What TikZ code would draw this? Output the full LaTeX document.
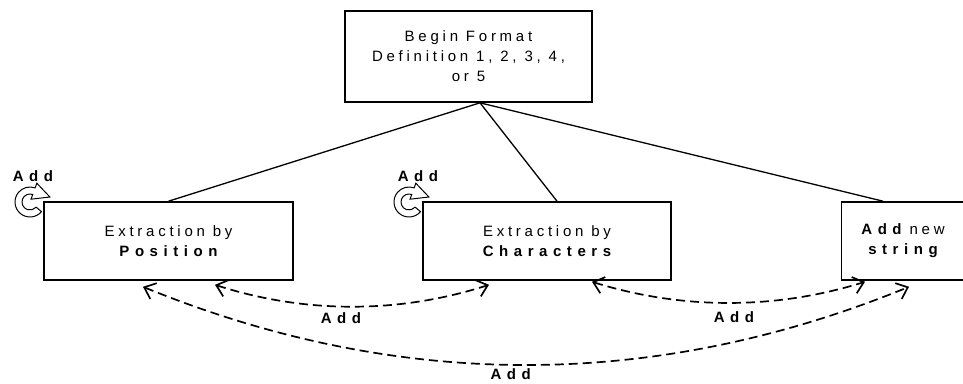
\documentclass[tikz,border=0pt]{standalone}
\usepackage{fontspec}
\setmainfont{Liberation Sans}
\newfontfamily\lsfont[LetterSpace=25]{Liberation Sans}
\newfontfamily\lsbold[LetterSpace=37]{Liberation Sans Bold}
\usetikzlibrary{arrows.meta}

\tikzset{
  block/.style={draw, line width=1.6pt, fill=white, minimum height=78pt, inner sep=0pt,
    align=center, font=\fontsize{15}{20}\selectfont\lsfont},
  addlbl/.style={inner sep=0pt, font=\fontsize{15}{20}\selectfont\lsbold},
  link/.style={line width=1.3pt},
  dasharrow/.style={line width=1.7pt, dash pattern=on 9pt off 5pt, <->,
    >={Straight Barb[length=10pt,width=17pt,line width=1.7pt]}},
  addloop/.pic={
    \draw[line width=1pt, fill=white] (-2.51,9.64) arc[start angle=40, end angle=290, radius=15]
      -- (-7.16,-18.79) -- (5.9,-5.0) -- (-12.97,-2.82) -- (-11.26,-7.52)
      arc[start angle=290, end angle=40, radius=8] -- cycle;
  }
}

\begin{document}
\begin{tikzpicture}[x=1pt, y=-1pt]
    \useasboundingbox (0,0) rectangle (963,383);
    \clip (0,0) rectangle (963,383);
    % loop icons sit behind the boxes
    \pic at (44,202) {addloop};
    \pic at (423,202) {addloop};
    \node (addpos) [addlbl] at (33,176) {Add};
    \node (addchr) [addlbl] at (418,176) {Add};
    \node (fmt) [block, minimum width=247pt, minimum height=91pt] at (468.5,56.5) {Begin Format\\Definition 1, 2, 3, 4,\\or 5};
    \node (pos) [block, minimum width=249pt] at (168.5,241) {Extraction by\\{\lsbold Position}};
    \node (chr) [block, minimum width=248pt] at (547,241) {Extraction by\\{\lsbold Characters}};
    \node (str) [block, minimum width=123pt] at (903,241) {{\lsbold Add} new\\{\lsbold string}};
    \coordinate (hub) at ([xshift=11.5pt]fmt.south);
    \draw[link] (hub) -- (pos.north);
    \draw[link] (hub) -- ([xshift=10pt]chr.north);
    \draw[link] (hub) -- ([xshift=-20pt]str.north);
    %\draw[link] (fmt.south) -- (chr.north);
    \draw[dasharrow] ([xshift=46.5pt,yshift=-4pt]pos.south) .. controls +(90,29) and +(-90,29) .. ([xshift=-58pt,yshift=-4pt]chr.south)
        node (addA) [addlbl, pos=0.46, below=5pt] {Add};
    \draw[dasharrow] ([xshift=45pt,yshift=-1pt]chr.south) .. controls +(90,28) and +(-90,28) .. ([xshift=-38pt,yshift=-1pt]str.south)
        node (addB) [addlbl, pos=0.52, below=8pt] {Add};
    \draw[dasharrow] ([xshift=-25.5pt,yshift=-6pt]pos.south) .. controls +(255,104) and +(-255,104) .. ([xshift=6pt,yshift=-6pt]str.south)
        node (addC) [addlbl, pos=0.48, below=3pt] {Add};
\end{tikzpicture}
\end{document}
